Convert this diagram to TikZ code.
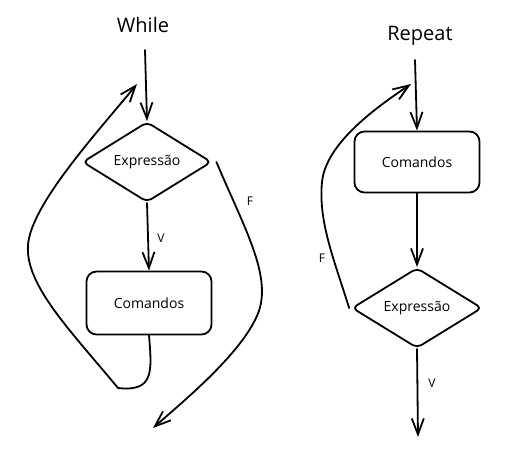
\documentclass[tikz,border=0pt]{standalone}
\usepackage{fontspec}
\setmainfont{Open Sans}
\usetikzlibrary{shapes.geometric,arrows.meta}
\tikzset{
  ln/.style={line width=1.8pt, line cap=round, line join=round},
  arr/.style={ln, -{Straight Barb[length=16pt,width=12pt,line width=1.8pt]}},
  dia/.style={diamond, draw, ln, rounded corners=5pt, inner sep=0pt, minimum width=#1, minimum height=80pt, font=\fontsize{14}{16}\selectfont},
  box/.style={rectangle, draw, ln, rounded corners=10pt, inner sep=0pt, font=\fontsize{14}{16}\selectfont},
  ttl/.style={font=\fontsize{20}{22}\selectfont},
  lbl/.style={font=\fontsize{12}{14}\selectfont}
}
\begin{document}
\begin{tikzpicture}[x=1pt,y=-1pt]
\useasboundingbox (0,0) rectangle (511,450);
% While
\node[ttl] (tw) at (143,25) {While};
\coordinate (ws) at (145,50);
\node[dia=129pt] (d1) at (147,162) {Expressão};
\node[box, minimum width=125pt, minimum height=63pt] (c1) at (149,303) {Comandos};
\coordinate (wl) at (137,84);
\coordinate (wf) at (153,428);
\node[lbl] (lv1) at (161,238) {V};
\node[lbl] (lf1) at (250,201) {F};
\draw[arr] (ws) -- (d1.north);
\draw[arr] (d1.south) -- (c1.north);
\draw[arr] (c1.south) .. controls (152,372) and (154,392) .. (118,388)
  .. controls (70,330) and (25,285) .. (28,245)
  .. controls (31,205) and (95,135) .. (wl);
\draw[arr] ([xshift=4pt]d1.east) .. controls (245,230) and (275,280) .. (256,318)
  .. controls (238,356) and (185,400) .. (wf);
% Repeat
\node[ttl] (tr) at (420,36) {Repeat};
\coordinate (rs) at (415,60);
\node[box, minimum width=125pt, minimum height=61pt] (c2) at (417,162) {Comandos};
\node[dia=130pt] (d2) at (417,308) {Expressão};
\coordinate (re) at (418,437);
\coordinate (rl) at (411,84);
\node[lbl] (lv2) at (432,383) {V};
\node[lbl] (lf2) at (322,258) {F};
\draw[arr] (rs) -- (c2.north);
\draw[arr] (c2.south) -- (d2.north);
\draw[arr] (d2.south) -- (re);
\draw[arr] ([xshift=-2pt]d2.west) .. controls (335,262) and (318,222) .. (322,182)
  .. controls (326,142) and (380,105) .. (rl);
\end{tikzpicture}
\end{document}
